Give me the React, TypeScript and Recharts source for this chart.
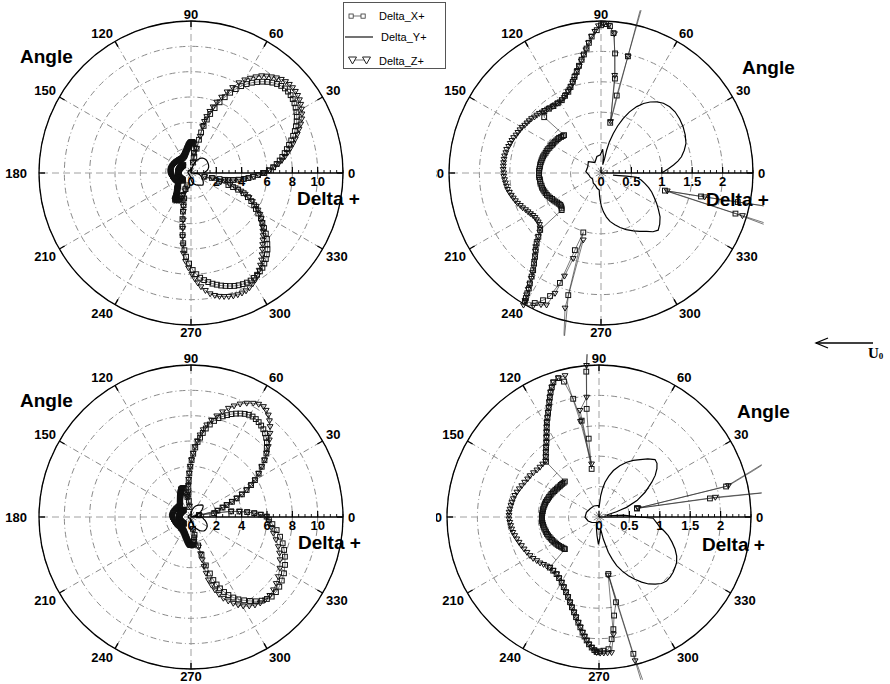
import {
  RadarChart,
  PolarGrid,
  PolarAngleAxis,
  PolarRadiusAxis,
  ScatterChart,
  Scatter,
  XAxis,
  YAxis,
} from "recharts";

const FONT = '"Liberation Sans", Arial, Helvetica, sans-serif';

// angle axis categories (degrees)
const angleTicks = ["0", "30", "60", "90", "120", "150", "180", "210", "240", "270", "300", "330"];

type Pt = [number, number]; // [angle in degrees, Delta+]

// ---- top case: Delta_X+ (squares)
const topX: Pt[] = [
  [0, 5.75], [2, 6.15], [4, 6.5], [6, 6.8], [8, 7.07], [10, 7.32], [12, 7.56], [14, 7.8], [16, 8.05],
  [18, 8.32], [20, 8.58], [22, 8.84], [24, 9.07], [26, 9.28], [28, 9.46], [30, 9.61], [32, 9.74],
  [34, 9.85], [36, 9.93], [38, 9.98], [40, 10.0], [42, 9.98], [44, 9.9], [46, 9.77], [48, 9.6],
  [50, 9.39], [52, 9.15], [54, 8.88], [56, 8.6], [58, 8.28], [60, 7.92], [62, 7.5], [64, 7.05],
  [66, 6.55], [68, 6.02], [70, 5.45], [72, 4.9], [73.5, 4.4], [75, 3.85], [76, 3.3], [76.5, 2.7],
  [77, 1.97], [78.5, 1.3], [79.6, 0.84], [81.6, 1.57], [83.3, 1.98], [84.9, 2.31], [86.5, 2.42],
  [88, 2.45], [90, 2.43], [91.7, 2.35], [93.9, 2.25], [95.3, 2.15], [96.6, 2.06], [98.2, 1.97],
  [99.7, 1.89], [101.6, 1.8], [103.5, 1.71], [105.4, 1.64], [107.2, 1.57], [109.5, 1.5], [111.9, 1.44],
  [115, 1.4], [118.3, 1.36], [121.8, 1.35], [125.4, 1.35], [129, 1.36], [132.5, 1.38], [135.5, 1.31],
  [134.3, 0.87], [136, 0.875], [138, 0.885], [140, 0.9], [142, 0.905], [144, 0.91], [146, 0.92],
  [148, 0.925], [150, 0.93], [152, 0.94], [154, 0.945], [156, 0.96], [158, 0.965], [160, 0.97],
  [162, 0.98], [164, 0.99], [166, 0.995], [168, 1.0], [170, 1.005], [172, 1.01], [174, 1.01],
  [176, 1.015], [178, 1.02], [180, 1.02], [182, 1.02], [184, 1.02], [186, 1.01], [188, 1.01],
  [190, 1.01], [192, 1.0], [194, 1.0], [196, 0.99], [198, 0.98], [200, 0.97], [202, 0.96],
  [204, 0.945], [206, 0.93], [208, 0.91], [210, 0.9], [212, 0.885], [214, 0.87], [216, 0.86],
  [218, 0.85], [220, 0.855], [222, 0.87], [223.3, 0.89],
  [223.1, 1.37], [225.5, 1.47], [227.6, 1.57], [229.7, 1.66], [231.7, 1.75],
  [233.5, 1.85], [235.1, 1.95], [236.2, 2.05], [237.2, 2.16], [238, 2.24], [238.5, 2.32], [239, 2.4],
  [239.4, 2.46], [243, 2.4], [245.5, 2.3], [247.5, 2.19], [249.5, 1.93], [251.3, 1.34], [253.4, 1.02],
  [255, 2.08], [257, 2.6], [258.2, 3.11], [259.5, 3.7], [260.9, 4.29], [262.3, 4.95], [263.7, 5.58],
  [265.1, 6.12], [266.6, 6.62], [268.8, 7.15], [271, 7.66], [273, 8.0], [275, 8.3], [277, 8.52],
  [279, 8.72], [281, 8.9], [283, 9.05], [285, 9.2], [287, 9.32], [289, 9.44], [291, 9.55], [293, 9.63],
  [295, 9.68], [297, 9.71], [299, 9.71], [301, 9.66], [303, 9.58], [305, 9.48], [307, 9.37], [309, 9.2],
  [311, 9.0], [313, 8.78], [315, 8.54], [317, 8.24], [319, 7.94], [321, 7.6], [323, 7.22], [325, 6.88],
  [327, 6.58], [329, 6.2], [331, 5.86], [333, 5.6], [335, 5.25], [337, 4.88], [339, 4.45], [340.5, 3.95],
  [341.5, 3.5], [342.2, 3.1], [343.2, 2.31], [344.6, 1.09], [346.8, 1.69], [348, 2.3], [348.6, 2.73],
  [349.4, 2.97], [350.6, 3.37], [352, 3.8], [353.6, 4.2], [355, 4.55], [356.6, 4.9], [358.3, 5.3],
  [360, 5.75],
];

// ---- top case: Delta_Y+ (solid line)
const topY: Pt[] = [
  [350, 0.2], [352, 0.3], [353, 0.42], [353.2, 0.59], [350, 0.67], [346.7, 0.74], [343, 0.82],
  [339.5, 0.89], [335.5, 0.96], [331.5, 1.04], [327.5, 1.12], [323.4, 1.21], [319, 1.28], [315, 1.33],
  [311.5, 1.29], [308, 1.22], [303.5, 1.15], [299.2, 1.09], [294, 1.02], [289.3, 0.95], [285, 0.88],
  [280.5, 0.81], [277, 0.73], [273.6, 0.64], [270.5, 0.54], [268, 0.44], [266, 0.36], [264, 0.28],
  [256, 0.26], [245, 0.22], [233, 0.21], [215, 0.17], [201, 0.19], [190, 0.2], [175, 0.25],
  [155, 0.24], [138, 0.28], [120, 0.2], [104, 0.28], [92, 0.3], [86, 0.39], [82, 0.28], [78, 0.14],
  [76, 0.25], [76.1, 0.39], [75, 0.53], [72.7, 0.68], [70.5, 0.82], [67.8, 0.97], [65, 1.11],
  [61.7, 1.24], [58.5, 1.34], [55.3, 1.42], [51.8, 1.49], [48.2, 1.54], [44, 1.57], [39.6, 1.58],
  [34.5, 1.57], [29.4, 1.55], [24.3, 1.52], [19.2, 1.48], [15.3, 1.42], [11.4, 1.35], [8.8, 1.28],
  [6.3, 1.2], [3.7, 1.11], [1.2, 1.03], [0, 1.0],
];

// ---- top case: Delta_Z+ (triangles)
const topZ: Pt[] = [
  [0, 5.75], [2, 6.2], [4, 6.6], [6, 6.95], [8, 7.25], [10, 7.55], [12, 7.83], [14, 8.1], [16, 8.38],
  [18, 8.66], [20, 8.93], [22, 9.2], [24, 9.48], [26, 9.72], [28, 9.92], [30, 10.08], [32, 10.22],
  [34, 10.33], [36, 10.41], [38, 10.46], [40, 10.47], [42, 10.45], [44, 10.38], [46, 10.27], [48, 10.1],
  [50, 9.9], [52, 9.7], [54, 9.48], [56, 9.15], [58, 8.82], [60, 8.48], [62, 8.06], [64, 7.5], [66, 7.0],
  [68, 6.45], [70, 5.95], [71.5, 5.5], [73, 5.08], [74.4, 4.62], [75.3, 4.2], [75.9, 3.77], [76, 2.98],
  [77, 1.97], [79.4, 0.86], [82, 1.62], [84.5, 2.3], [87, 2.43], [89, 2.45], [91, 2.42], [92.5, 2.33],
  [94, 2.25], [95.5, 2.15], [97, 2.04], [98.5, 1.96], [100, 1.87], [101.5, 1.79], [103, 1.73],
  [104.5, 1.66], [106, 1.6], [107.5, 1.55], [109, 1.51], [110.5, 1.47], [112, 1.44], [114, 1.41],
  [116, 1.38], [118, 1.36], [120, 1.35], [122, 1.35], [124, 1.35], [126, 1.35], [128, 1.36], [130, 1.37],
  [132, 1.38], [134, 1.39], [136, 1.41], [138, 1.42], [140, 1.43], [142, 1.45], [144, 1.46], [146, 1.47],
  [148, 1.48], [150, 1.5], [152, 1.51], [154, 1.52], [156, 1.53], [158, 1.55], [160, 1.56], [162, 1.57],
  [164, 1.58], [166, 1.6], [168, 1.6], [170, 1.61], [172, 1.61], [174, 1.61], [176, 1.61], [178, 1.61],
  [180, 1.6], [182, 1.6], [184, 1.59], [186, 1.58], [188, 1.57], [190, 1.56], [192, 1.54], [194, 1.52],
  [196, 1.5], [198, 1.48], [200, 1.46], [202, 1.43], [204, 1.41], [206, 1.38], [208, 1.36], [210, 1.34],
  [212, 1.32], [214, 1.31], [216, 1.31], [218, 1.31], [220, 1.32], [222, 1.35], [224, 1.4],
  [225.5, 1.47], [227, 1.54], [228.5, 1.62], [230, 1.68], [231.5, 1.74], [233, 1.82], [234.5, 1.9],
  [235.5, 1.99], [236.5, 2.08], [237.3, 2.17], [238, 2.26], [238.6, 2.35], [239.2, 2.44], [239.6, 2.52],
  [243, 2.45], [245.5, 2.38], [247.6, 2.35], [249.1, 2.12], [250.5, 1.8], [252, 1.48], [255.2, 1.14],
  [255.1, 2.3], [257, 2.7], [258.8, 3.1], [260.7, 3.76], [261.6, 4.42], [262.5, 5.07], [263.5, 5.72],
  [264.5, 6.37], [266.5, 7.0], [268.5, 7.5], [270.5, 7.98], [272, 8.35], [273.5, 8.7], [275, 9.02],
  [277, 9.35], [279, 9.66], [281, 9.85], [283, 10.0], [285, 10.1], [287, 10.2], [289, 10.27], [291, 10.3],
  [293, 10.3], [295, 10.27], [297, 10.17], [299, 10.03], [301, 9.86], [303, 9.65], [305, 9.38],
  [307, 9.12], [309, 8.85], [311, 8.56], [313, 8.26], [315, 8.0], [317, 7.76], [319, 7.55], [321, 7.3],
  [323, 7.07], [325, 6.85], [327, 6.62], [329, 6.35], [331, 6.05], [333, 5.8], [335, 5.35], [337, 4.98],
  [338.5, 4.6], [340, 4.2], [341.5, 3.7], [342.9, 3.22], [343.2, 2.43], [344.8, 1.13], [347, 1.75],
  [348.6, 2.75], [349.4, 2.98], [350.6, 3.37], [352, 3.85], [353.6, 4.25], [355, 4.6], [356.6, 4.95],
  [358.3, 5.35], [360, 5.75],
];

// ---- bottom case: Delta_X+ (squares)
const botX: Pt[] = [
  [12.8, 0.64], [13.5, 2.15], [16.7, 2.6], [18.6, 2.97], [20.4, 3.45], [22.2, 3.9], [24, 4.4],
  [25.9, 4.88], [28, 5.37], [30, 5.83], [32.7, 6.35], [35.4, 6.85], [37.7, 7.33], [40.1, 7.78],
  [42.4, 8.1], [44.5, 8.4], [46.5, 8.62], [48.5, 8.82], [50.5, 8.98], [52.5, 9.1], [54.5, 9.2],
  [56.5, 9.27], [58.5, 9.3], [60.5, 9.27], [62.5, 9.18], [64.5, 9.05], [66.5, 8.9], [68.5, 8.73],
  [70.5, 8.53], [72.5, 8.33], [74.5, 8.1], [76.5, 7.8], [78.5, 7.45], [80.5, 7.08], [82, 6.7],
  [83.5, 6.3], [85, 5.95], [86.5, 5.5], [88, 5.0], [89.4, 4.5], [90.8, 3.98], [92.2, 3.45],
  [93.6, 2.93], [95, 2.4], [96.5, 1.79], [97.5, 1.3], [98.7, 0.8], [100.2, 1.61], [102.3, 1.99],
  [104.5, 2.3], [106.3, 2.38], [108.7, 2.34], [110, 2.27], [111.2, 2.2], [112.3, 2.13], [113.4, 2.06],
  [114.7, 1.98], [116, 1.91], [117.4, 1.84], [118.8, 1.78], [120.2, 1.71], [121.7, 1.64], [123.4, 1.57],
  [125.2, 1.5], [127.2, 1.44], [129.3, 1.38], [131.5, 1.32], [133.8, 1.26],
  [133.9, 0.81], [136, 0.81], [138, 0.815], [140, 0.82], [142, 0.82], [144, 0.83], [146, 0.835],
  [148, 0.845], [150, 0.85], [152, 0.86], [154, 0.87], [156, 0.875], [158, 0.885], [160, 0.89],
  [162, 0.9], [164, 0.91], [166, 0.915], [168, 0.92], [170, 0.925], [172, 0.93], [174, 0.93],
  [176, 0.935], [178, 0.94], [180, 0.94], [182, 0.94], [184, 0.94], [186, 0.935], [188, 0.93],
  [190, 0.925], [192, 0.92], [194, 0.91], [196, 0.905], [198, 0.9], [200, 0.89], [202, 0.88],
  [204, 0.87], [206, 0.86], [208, 0.85], [210, 0.84], [212, 0.83], [214, 0.82], [216, 0.81],
  [218, 0.795], [220, 0.785], [222, 0.775], [223.3, 0.77],
  [225.8, 1.16], [229.5, 1.16],
  [233.4, 1.17], [236.8, 1.2], [240.3, 1.24], [243.3, 1.29], [246.3, 1.35], [248.8, 1.41], [251.2, 1.48],
  [253.3, 1.55], [255.3, 1.62], [257.1, 1.69], [258.9, 1.77], [260.4, 1.84], [261.9, 1.92], [263.1, 1.98],
  [264.3, 2.04], [265.5, 2.1], [266.8, 2.15], [268, 2.19], [269, 2.22], [270.5, 2.21], [271.9, 2.2],
  [274.1, 2.18], [275.9, 2.02], [277.3, 1.86], [278.7, 1.64], [281.3, 1.43], [279.3, 0.95], [284.1, 2.32],
  [285.5, 3.1], [287, 4.0], [288.5, 4.7], [289.5, 5.28], [290.8, 5.7], [292.1, 6.08], [293.8, 6.47],
  [295.6, 6.83], [297.7, 7.18], [299.9, 7.5], [302.5, 7.8], [305.1, 8.1], [307.6, 8.4], [310.2, 8.65],
  [312.8, 8.82], [315.4, 8.95], [318.5, 8.95], [321.7, 8.88], [325, 8.75], [328.8, 8.58], [333, 8.33],
  [337.1, 8.05], [340.5, 7.8], [344, 7.53], [347.5, 7.2], [351.3, 6.84], [355, 6.45], [358, 6.15],
  [0.3, 5.97], [2, 5.5], [3.5, 5.0], [5, 4.45], [6.5, 3.85], [8, 3.2], [9.5, 1.85], [12.8, 0.64],
];

// ---- bottom case: Delta_Y+ (solid line)
const botY: Pt[] = [
  [8, 0.15], [14.6, 0.13], [16.8, 0.3], [19.3, 0.48], [23.4, 0.68], [28.2, 0.86], [33.4, 1.04],
  [36.5, 1.15], [39.8, 1.24], [42.8, 1.3], [45.7, 1.32], [50, 1.25], [54.4, 1.16], [58.8, 1.09],
  [63.2, 1.01], [68, 0.91], [72.8, 0.8], [76.5, 0.69], [80.2, 0.58], [83, 0.46], [85.5, 0.35], [90, 0.15],
  [93, 0.19], [115, 0.2], [137, 0.2], [160, 0.22], [181, 0.23], [200, 0.19], [217, 0.15], [245, 0.1],
  [258, 0.2], [264, 0.31], [268.8, 0.45], [272, 0.35], [278, 0.2], [281, 0.37], [284.8, 0.6],
  [287.5, 0.73], [290, 0.85], [293.3, 0.97], [296.6, 1.08], [299.9, 1.18], [303.2, 1.28], [306.5, 1.37],
  [309.9, 1.44], [313.2, 1.5], [316.6, 1.53], [320, 1.53], [323.3, 1.52], [326.5, 1.5], [329.6, 1.48],
  [333.3, 1.43], [337, 1.36], [341, 1.27], [344.9, 1.18], [347.7, 1.1], [350.4, 1.02], [354.5, 0.95],
  [358.7, 0.89], [0, 0.67], [2, 0.5], [4.3, 0.4], [8, 0.15],
];

// ---- bottom case: Delta_Z+ (triangles)
const botZ: Pt[] = [
  [12.8, 0.66], [13.6, 2.19], [16.7, 2.65], [18.6, 3.0], [20.4, 3.45], [22.2, 3.9], [24, 4.4],
  [25.9, 4.88], [28, 5.37], [30, 5.83], [32.7, 6.35], [35.4, 6.85], [37.7, 7.35], [40.1, 7.81],
  [42.3, 8.25], [44.5, 8.67], [46.6, 9.08], [48.8, 9.48], [50.8, 9.8], [52.8, 10.1], [54.8, 10.3],
  [56.7, 10.42], [59, 10.38], [61.3, 10.23], [63.9, 10.0], [66.5, 9.72], [68.8, 9.4], [71, 9.07],
  [73.3, 8.66], [75.7, 8.23], [78, 7.8], [80.3, 7.37], [82, 6.95], [83.7, 6.51], [85.2, 6.03],
  [86.7, 5.56], [88, 5.03], [89.4, 4.5], [90.8, 3.98], [92.2, 3.45], [93.5, 2.98], [94.7, 2.5],
  [95.9, 1.98], [100.1, 1.78], [98, 0.88], [101, 1.6], [103.5, 2.39], [106.3, 2.38], [108.7, 2.34],
  [110, 2.27], [111.2, 2.2], [112.3, 2.13], [113.4, 2.06], [114.7, 1.98], [116, 1.91], [117.4, 1.84],
  [118.8, 1.78], [120.2, 1.71], [121.7, 1.64], [123.4, 1.57], [125.2, 1.5], [127.2, 1.44], [129.3, 1.38],
  [131.5, 1.32], [133.8, 1.27], [136.8, 1.27], [139.9, 1.27], [142.9, 1.28], [146, 1.3], [149.1, 1.32],
  [152, 1.33], [155, 1.35], [158, 1.37], [160.6, 1.39], [163.2, 1.41], [165.7, 1.43], [168, 1.44],
  [170.4, 1.45], [172.7, 1.46], [175, 1.47], [177, 1.48], [179.1, 1.48], [181.3, 1.48], [183.5, 1.47],
  [185.6, 1.46], [187.9, 1.45], [190.2, 1.44], [192.5, 1.42], [195, 1.4], [197.6, 1.38], [200.3, 1.36],
  [203.2, 1.34], [206.2, 1.32], [209.3, 1.3], [212.2, 1.28], [215.1, 1.25], [218, 1.23], [220.6, 1.2],
  [223.2, 1.18], [225.8, 1.16], [229.5, 1.16], [233.4, 1.17], [236.8, 1.2], [240.3, 1.24], [243.3, 1.29],
  [246.3, 1.35], [248.8, 1.41], [251.2, 1.48], [253.3, 1.55], [255.3, 1.62], [257.1, 1.69], [258.9, 1.77],
  [260.4, 1.84], [261.9, 1.92], [263.1, 1.98], [264.3, 2.04], [265.5, 2.1], [266.8, 2.15], [268, 2.2],
  [269, 2.23], [270.5, 2.24], [272, 2.24], [273.6, 2.24], [275.3, 2.24], [277, 1.95], [279, 0.97],
  [284.1, 2.44], [284.6, 3.0], [284.7, 3.5], [284.7, 4.05], [285, 4.6], [285.4, 5.16], [286.7, 5.62],
  [288.2, 6.07], [289.9, 6.5], [291.7, 6.91], [293.9, 7.26], [296.1, 7.59], [298.2, 7.88], [300.4, 8.15],
  [303.2, 8.4], [306, 8.59], [308.8, 8.72], [311.7, 8.78], [315.1, 8.78], [318.5, 8.69], [322, 8.54],
  [325.6, 8.35], [330, 8.1], [334.3, 7.8], [337.8, 7.55], [341.2, 7.28], [345, 6.95], [348.8, 6.63],
  [352.5, 6.4], [356.5, 6.15], [0.3, 5.97], [2, 5.5], [3.5, 5.0], [5, 4.45], [6.5, 3.85], [8, 3.2],
  [9.6, 1.94], [12.8, 0.66],
];

const S = 380; // panel box
const HALF = S / 2;
const R = 152; // outer radius in px
const K = 1.07; // clip area relative to outer circle
const TICK_GAP = 2;

const angleData = angleTicks.map((a) => ({ angle: a }));

const toXY = (pts: Pt[]) =>
  pts.map(([a, r]) => ({
    x: r * Math.cos((a * Math.PI) / 180),
    y: r * Math.sin((a * Math.PI) / 180),
    r,
  }));

const outside = (cx: number, cy: number) => Math.hypot(cx - HALF, cy - HALF) > R + 1.5;

const SquareMark = (p: any) => {
  if (p.cx == null || outside(p.cx, p.cy)) return <g />;
  return (
    <rect x={p.cx - 2.4} y={p.cy - 2.4} width={4.8} height={4.8} fill="none" stroke="#111" strokeWidth={1} />
  );
};

const TriMark = (p: any) => {
  if (p.cx == null || outside(p.cx, p.cy)) return <g />;
  const { cx, cy } = p;
  return (
    <path
      d={`M${cx - 2.9},${cy - 2} L${cx + 2.9},${cy - 2} L${cx},${cy + 2.9} Z`}
      fill="none"
      stroke="#111"
      strokeWidth={1}
    />
  );
};

const NoMark = () => <g />;

// angle labels; leftGap = extra room before the "180" label
const makeAngleTick = (leftGap: number) => (props: any) => {
  const { x, y, payload } = props;
  const deg = Number(payload.value);
  const c = Math.cos((deg * Math.PI) / 180);
  const s = Math.sin((deg * Math.PI) / 180);
  const ox = x - TICK_GAP * c;
  const oy = y + TICK_GAP * s;
  const anchor = c > 0.3 ? "start" : c < -0.3 ? "end" : "middle";
  const base = s > 0.3 ? "auto" : s < -0.3 ? "hanging" : "central";
  const extra = Math.abs(s) > 0.95 ? 0 : Math.abs(c) > 0.95 ? (c < 0 ? leftGap : 3) : 2;
  return (
    <g>
      <line x1={ox} y1={oy} x2={ox - 6 * c} y2={oy + 6 * s} stroke="#000" strokeWidth={1.4} />
      <text
        x={x + extra * c}
        y={y - extra * s}
        textAnchor={anchor}
        dominantBaseline={base}
        fontFamily={FONT}
        fontWeight="bold"
        fontSize={13}
        fill="#000"
      >
        {payload.value}
      </text>
    </g>
  );
};

const makeRadiusTick = (rmax: number) => (props: any) => {
  const { x, y, payload } = props;
  const v = Number(payload.value);
  if (v >= rmax - 1e-6) return <g />;
  return (
    <g>
      <line x1={x} y1={y} x2={x} y2={y - 6} stroke="#000" strokeWidth={1.2} />
      <text
        x={x}
        y={y + 3}
        textAnchor="middle"
        dominantBaseline="hanging"
        fontFamily={FONT}
        fontWeight="bold"
        fontSize={13}
        fill="#000"
      >
        {String(Math.round(v * 10) / 10)}
      </text>
    </g>
  );
};

const MinorTick = (props: any) => {
  const { x, y } = props;
  return <line x1={x} y1={y} x2={x} y2={y - 3} stroke="#000" strokeWidth={0.9} />;
};

interface PanelProps {
  cx: number;
  cy: number;
  rmax: number;
  majorCount: number;
  minorCount: number;
  xs: Pt[];
  ys: Pt[];
  zs: Pt[];
  clipLeft?: number;
  leftGap: number;
}

function PolarPanel({ cx, cy, rmax, majorCount, minorCount, xs, ys, zs, clipLeft, leftGap }: PanelProps) {
  const d = rmax * K;
  const m = HALF - R * K;
  const left = cx - HALF;
  const top = cy - HALF;
  const cut = clipLeft != null ? Math.max(0, clipLeft - left) : 0;
  return (
    <div
      style={{
        position: "absolute",
        left: left + cut,
        top,
        width: S - cut,
        height: S,
        overflow: "hidden",
      }}
    >
      <div style={{ position: "absolute", left: -cut, top: 0, width: S, height: S }}>
        <div style={{ position: "absolute", left: 0, top: 0 }}>
          <RadarChart
            width={S}
            height={S}
            cx={HALF}
            cy={HALF}
            outerRadius={R}
            startAngle={30}
            endAngle={390}
            data={angleData}
            margin={{ top: 0, right: 0, bottom: 0, left: 0 }}
          >
            <PolarGrid gridType="circle" radialLines={false} stroke="#8a8a8a" strokeDasharray="6 3 1 3" />
            <PolarGrid
              polarAngles={[30, 60, 120, 150, 210, 240, 300, 330]}
              polarRadius={[]}
              stroke="#8a8a8a"
              strokeDasharray="6 3 1 3"
            />
            <PolarGrid polarAngles={[90, 180, 270]} polarRadius={[]} stroke="#a0a0a0" strokeDasharray="7 4" />
            <PolarAngleAxis
              dataKey="angle"
              tick={makeAngleTick(leftGap)}
              tickLine={false}
              tickSize={TICK_GAP}
              axisLine={{ stroke: "#000", strokeWidth: 1.3 }}
              axisLineType="circle"
            />
            <PolarRadiusAxis
              radiusAxisId="minor"
              angle={0}
              type="number"
              domain={[0, rmax]}
              allowDataOverflow
              allowDecimals
              tickCount={minorCount}
              axisLine={false}
              tick={MinorTick}
            />
            <PolarRadiusAxis
              angle={0}
              type="number"
              domain={[0, rmax]}
              allowDataOverflow
              allowDecimals
              tickCount={majorCount}
              axisLine={{ stroke: "#000", strokeWidth: 1.6 }}
              tick={makeRadiusTick(rmax)}
            />
          </RadarChart>
        </div>
        <div style={{ position: "absolute", left: 0, top: 0, pointerEvents: "none" }}>
          <ScatterChart width={S} height={S} margin={{ top: m, right: m, bottom: m, left: m }}>
            <XAxis type="number" dataKey="x" domain={[-d, d]} hide allowDataOverflow />
            <YAxis type="number" dataKey="y" domain={[-d, d]} hide allowDataOverflow />
            <Scatter
              data={toXY(xs)}
              shape={SquareMark}
              line={{ stroke: "#222", strokeWidth: 0.6 }}
              lineType="joint"
              isAnimationActive={false}
            />
            <Scatter
              data={toXY(zs)}
              shape={TriMark}
              line={{ stroke: "#222", strokeWidth: 0.6 }}
              lineType="joint"
              isAnimationActive={false}
            />
            <Scatter
              data={toXY(ys)}
              shape={NoMark}
              line={{ stroke: "#000", strokeWidth: 1.2 }}
              lineType="joint"
              isAnimationActive={false}
            />
          </ScatterChart>
        </div>
      </div>
    </div>
  );
}

const labelStyle: React.CSSProperties = {
  position: "absolute",
  fontFamily: FONT,
  fontWeight: "bold",
  fontSize: 19,
  lineHeight: "19px",
  color: "#000",
  whiteSpace: "nowrap",
};

function Legend() {
  return (
    <div
      style={{
        position: "absolute",
        left: 343,
        top: 2,
        width: 101,
        height: 65,
        border: "1px solid #555",
        background: "#fff",
      }}
    >
      <svg width={101} height={65} style={{ display: "block" }}>
        <line x1={7} y1={13} x2={19} y2={13} stroke="#333" strokeWidth={0.7} />
        <rect x={5} y={11} width={4.2} height={4.2} fill="#fff" stroke="#333" strokeWidth={0.8} />
        <rect x={17} y={11} width={4.2} height={4.2} fill="#fff" stroke="#333" strokeWidth={0.8} />
        <line x1={1} y1={34} x2={29} y2={34} stroke="#000" strokeWidth={1.1} />
        <line x1={9} y1={57} x2={22} y2={57} stroke="#333" strokeWidth={0.7} />
        <path d="M4.5,54 L12.5,54 L8.5,61 Z" fill="#fff" stroke="#222" strokeWidth={1} />
        <path d="M18.5,54 L26.5,54 L22.5,61 Z" fill="#fff" stroke="#222" strokeWidth={1} />
        <text x={35} y={13} dominantBaseline="central" fontFamily={FONT} fontSize={11} fill="#000">
          Delta_X+
        </text>
        <text x={37} y={34} dominantBaseline="central" fontFamily={FONT} fontSize={11} fill="#000">
          Delta_Y+
        </text>
        <text x={35} y={58} dominantBaseline="central" fontFamily={FONT} fontSize={11} fill="#000">
          Delta_Z+
        </text>
      </svg>
    </div>
  );
}

export default function App() {
  return (
    <div
      style={{
        position: "absolute",
        left: 0,
        top: 0,
        width: 890,
        height: 684,
        background: "#fff",
        overflow: "hidden",
      }}
    >
      <PolarPanel cx={601} cy={173} rmax={2.5} majorCount={6} minorCount={26} xs={topX} ys={topY} zs={topZ} clipLeft={436} leftGap={3} />
      <PolarPanel cx={599} cy={517} rmax={2.5} majorCount={6} minorCount={26} xs={botX} ys={botY} zs={botZ} clipLeft={436} leftGap={3} />
      <PolarPanel cx={191} cy={173} rmax={12} majorCount={7} minorCount={25} xs={topX} ys={topY} zs={topZ} leftGap={10} />
      <PolarPanel cx={191} cy={517} rmax={12} majorCount={7} minorCount={25} xs={botX} ys={botY} zs={botZ} leftGap={10} />

      <div style={{ ...labelStyle, left: 20, top: 47 }}>Angle</div>
      <div style={{ ...labelStyle, left: 742, top: 58 }}>Angle</div>
      <div style={{ ...labelStyle, left: 20, top: 391 }}>Angle</div>
      <div style={{ ...labelStyle, left: 737, top: 402 }}>Angle</div>

      <div style={{ ...labelStyle, left: 297, top: 189 }}>Delta +</div>
      <div style={{ ...labelStyle, left: 706, top: 190 }}>Delta +</div>
      <div style={{ ...labelStyle, left: 298, top: 533 }}>Delta +</div>
      <div style={{ ...labelStyle, left: 702, top: 535 }}>Delta +</div>

      <Legend />

      <svg style={{ position: "absolute", left: 810, top: 330 }} width={80} height={35}>
        <line x1={6} y1={13} x2={63} y2={13} stroke="#000" strokeWidth={1.3} />
        <polyline points="18,8 6,13 18,18" fill="none" stroke="#000" strokeWidth={1.3} />
        <text x={58} y={28} fontFamily='"Liberation Serif", "Times New Roman", serif' fontWeight="bold" fontSize={15} fill="#000">
          U
          <tspan fontSize={9} dy={1}>
            0
          </tspan>
        </text>
      </svg>
    </div>
  );
}
